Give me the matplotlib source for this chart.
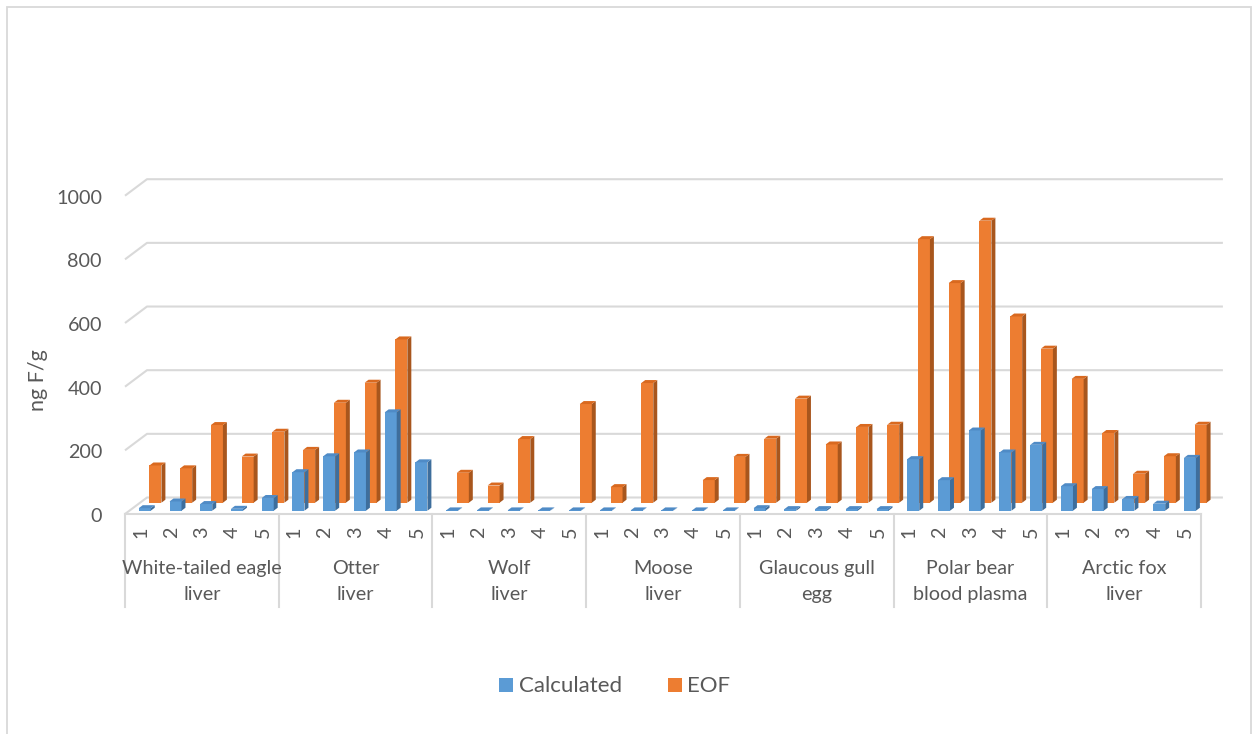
import matplotlib
matplotlib.use("Agg")
import matplotlib.pyplot as plt
from matplotlib.patches import Polygon, Rectangle
import numpy as np

# ---------------- data ----------------
categories = ["White-tailed eagle\nliver", "Otter\nliver", "Wolf\nliver", "Moose\nliver",
              "Glaucous gull\negg", "Polar bear\nblood plasma", "Arctic fox\nliver"]
samples = ["1", "2", "3", "4", "5"]
calculated = [
    [8, 29, 21, 6, 40],
    [121, 171, 183, 309, 152],
    [1, 1, 1, 1, 1],
    [1, 1, 1, 1, 1],
    [8, 5, 5, 5, 5],
    [162, 96, 252, 183, 207],
    [77, 68, 37, 22, 166],
]
eof = [
    [117, 108, 244, 145, 223],
    [166, 314, 377, 513, 0],
    [94, 54, 200, 0, 310],
    [49, 376, 0, 71, 144],
    [201, 327, 183, 238, 245],
    [828, 690, 886, 585, 484],
    [389, 219, 91, 146, 245],
]
y_ticks = [0, 200, 400, 600, 800, 1000]
y_label = "ng F/g"
series_names = ["Calculated", "EOF"]

# ---------------- style / layout ----------------
W, H = 1252, 734
FONT = ["Lato", "DejaVu Sans"]
TXT = "#595959"
GRID = "#D9D9D9"
BLUE, BLUE_TOP, BLUE_SIDE = "#5B9BD5", "#4F8BC6", "#3E6E9C"
ORANGE, ORANGE_TOP, ORANGE_SIDE = "#ED7D31", "#D9691F", "#A8561D"

X0 = 125.0            # px of front-left edge of category axis
SLOT = 153.7 / 5.0    # px per sample slot
Y0 = 514.0            # px (from top) of front zero level
PPU = 0.3183          # px per value unit
DX = 22.0 / SLOT      # depth offset in slot units
DY = 16.5 / PPU       # depth offset in value units
BAR_W = 12.0 / SLOT
THICK = 0.18

plt.rcParams['font.family'] = FONT
fig = plt.figure(figsize=(W / 100, H / 100), dpi=100)
ax = fig.add_axes([0, 0, 1, 1])
ax.set_xlim(-X0 / SLOT - 0.5, (W - X0) / SLOT - 0.5)
ax.set_ylim((Y0 - H) / PPU, Y0 / PPU)
ax.axis("off")

def px_x(p):
    return (p - X0) / SLOT - 0.5

def px_y(p):
    return (Y0 - p) / PPU

n_cat = len(categories)
n_s = len(samples)
n_slots = n_cat * n_s
x_left = -0.5
x_right = n_slots - 0.5

# outer border
fig.patches.append(Rectangle((7 / W, -0.1), (1251 - 7) / W, 1 - 7 / H + 0.1,
                             transform=fig.transFigure, fill=False,
                             edgecolor=GRID, lw=1.3, zorder=0))

# gridlines on back wall
for v in y_ticks:
    ax.plot([x_left, x_left + DX, x_right + DX], [v, v + DY, v + DY],
            color=GRID, lw=1.5, zorder=1, solid_capstyle="butt")
    ax.text(px_x(102), v - 8 / PPU, str(v), ha="right", va="baseline",
            fontsize=14.2, color=TXT)

# front frame
ax.plot([x_left, x_right], [0, 0], color=GRID, lw=1.5, zorder=1)
for k in range(n_cat + 1):
    xb = x_left + k * n_s
    ax.plot([xb, xb], [0, px_y(607)], color=GRID, lw=1.5, zorder=1)

def bar3d(xc, v, d0, c_front, c_top, c_side, z):
    xl = xc + d0 * DX - BAR_W / 2
    xr = xl + BAR_W
    y0 = d0 * DY
    y1 = y0 + v
    ddx, ddy = THICK * DX, THICK * DY
    ax.bar([xl + BAR_W / 2], [v], width=BAR_W, bottom=y0, color=c_front,
           edgecolor="none", zorder=z)
    ax.add_patch(Polygon([(xr, y0), (xr + ddx, y0 + ddy), (xr + ddx, y1 + ddy), (xr, y1)],
                         closed=True, facecolor=c_side, edgecolor="none", zorder=z))
    ax.add_patch(Polygon([(xl, y1), (xr, y1), (xr + ddx, y1 + ddy), (xl + ddx, y1 + ddy)],
                         closed=True, facecolor=c_top, edgecolor="none", zorder=z))

for ci in range(n_cat):
    for si in range(n_s):
        i = ci * n_s + si
        ve = eof[ci][si]
        if ve > 0:
            bar3d(i, ve, 0.685, ORANGE, ORANGE_TOP, ORANGE_SIDE, 2)
for ci in range(n_cat):
    for si in range(n_s):
        i = ci * n_s + si
        bar3d(i, calculated[ci][si], 0.2, BLUE, BLUE_TOP, BLUE_SIDE, 3)

# sample tick labels
for ci in range(n_cat):
    for si in range(n_s):
        i = ci * n_s + si
        ax.text(i, px_y(532), samples[si], rotation=90, ha="center", va="center",
                fontsize=14.2, color=TXT)

# category labels
for ci, cat in enumerate(categories):
    xc = x_left + ci * n_s + n_s / 2
    lines = cat.split("\n")
    ax.text(xc, px_y(574), lines[0], ha="center", va="baseline", fontsize=14.2, color=TXT)
    ax.text(xc, px_y(600), lines[1], ha="center", va="baseline", fontsize=14.2, color=TXT)

# y axis label
ax.text(px_x(38), px_y(380), y_label, rotation=90, ha="center", va="center",
        fontsize=15.5, color=TXT)

# legend
def add_square(x, y, color):
    fig.patches.append(Rectangle((x / W, 1 - (y + 14) / H), 14 / W, 14 / H,
                                 transform=fig.transFigure, facecolor=color,
                                 edgecolor="none"))
add_square(499, 678, BLUE)
add_square(668, 678, ORANGE)
fig.text(519 / W, 1 - 692 / H, series_names[0], ha="left", va="baseline",
         fontsize=16, color=TXT)
fig.text(687 / W, 1 - 692 / H, series_names[1], ha="left", va="baseline",
         fontsize=16, color=TXT)

fig.savefig("out.png", dpi=100, facecolor="white")
